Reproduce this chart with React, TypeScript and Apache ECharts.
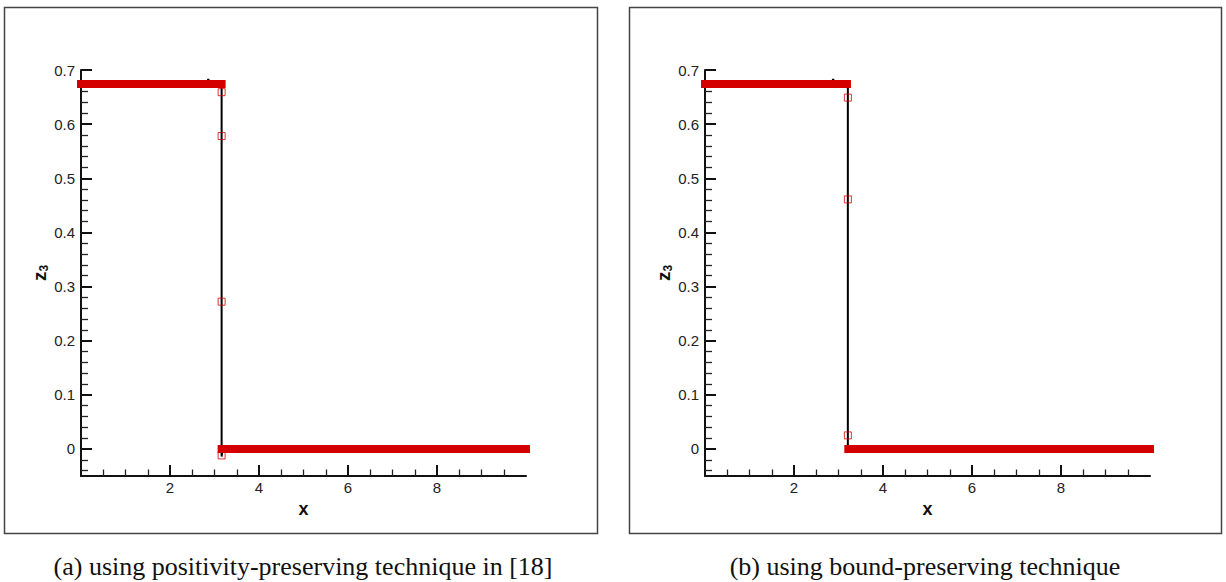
import React, { useEffect, useRef } from "react";
import * as echarts from "echarts";

// ---- tick values ----
const X_MAJOR = [2, 4, 6, 8];
const X_MINOR = [0.5, 1, 1.5, 2.5, 3, 3.5, 4.5, 5, 5.5, 6.5, 7, 7.5, 8.5, 9, 9.5];
const Y_MAJOR = [0, 0.1, 0.2, 0.3, 0.4, 0.5, 0.6, 0.7];
const Y_MINOR = [
  -0.04, -0.02, 0.02, 0.04, 0.06, 0.08, 0.12, 0.14, 0.16, 0.18, 0.22, 0.24, 0.26, 0.28,
  0.32, 0.34, 0.36, 0.38, 0.42, 0.44, 0.46, 0.48, 0.52, 0.54, 0.56, 0.58, 0.62, 0.64, 0.66, 0.68,
];

// ---- panel (a): positivity-preserving ----
const A_LINE = [[0, 0.674], [2.82, 0.674], [2.86, 0.683], [2.9, 0.674], [3.16, 0.674], [3.16, -0.014], [3.18, 0], [10, 0]];
const A_TOP = [[0, 0.674], [3.16, 0.674]];
const A_BOTTOM = [[3.16, 0], [10, 0]];
const A_JUMP = [[3.16, 0.659], [3.16, 0.578], [3.16, 0.272], [3.16, -0.012]];

// ---- panel (b): bound-preserving ----
const B_LINE = [[0, 0.674], [2.84, 0.674], [2.88, 0.683], [2.92, 0.674], [3.21, 0.674], [3.21, 0], [10, 0]];
const B_TOP = [[0, 0.674], [3.19, 0.674]];
const B_BOTTOM = [[3.22, 0], [10, 0]];
const B_JUMP = [[3.21, 0.649], [3.21, 0.461], [3.21, 0.025]];

const CAPTIONS = ["(a) using positivity-preserving technique in [18]", "(b) using bound-preserving technique"];

const RED = "#d40000";
const SANS = "Liberation Sans";

export default function App() {
  const ref = useRef<HTMLDivElement>(null);
  useEffect(() => {
    if (!ref.current) return;
    const chart = echarts.init(ref.current, undefined, { renderer: "svg" });
    const grids = [
      { left: 81, top: 70, width: 445, height: 406 },
      { left: 705, top: 70, width: 445, height: 406 },
    ];
    const xAxis: any[] = [];
    const yAxis: any[] = [];
    grids.forEach((_, g) => {
      xAxis.push({
        type: "value", gridIndex: g, min: 0, max: 10, position: "bottom",
        name: "x", nameLocation: "middle", nameGap: 21,
        nameTextStyle: { fontFamily: SANS, fontSize: 18, fontWeight: "bold", color: "#111" },
        axisLine: { onZero: false, lineStyle: { color: "#111", width: 2 } },
        axisTick: { inside: true, length: 11, customValues: X_MAJOR, lineStyle: { color: "#111", width: 2 } },
        axisLabel: { customValues: X_MAJOR, fontFamily: SANS, fontSize: 15, color: "#222", margin: 4 },
        splitLine: { show: false },
      });
      xAxis.push({
        type: "value", gridIndex: g, min: 0, max: 10, position: "bottom",
        axisLine: { show: false, onZero: false },
        axisTick: { inside: true, length: 6.5, customValues: X_MINOR, lineStyle: { color: "#222", width: 1.3 } },
        axisLabel: { show: false },
        splitLine: { show: false },
      });
      yAxis.push({
        type: "value", gridIndex: g, min: -0.05, max: 0.7, position: "left",
        name: "{z|z}{s|3}", nameLocation: "middle", nameGap: 8, nameRotate: 90,
        nameTextStyle: {
          color: "#111",
          rich: {
            z: { fontFamily: SANS, fontSize: 19, fontWeight: "bold", color: "#111", lineHeight: 22 },
            s: { fontFamily: SANS, fontSize: 12, fontWeight: "bold", color: "#111", lineHeight: 22, padding: [9, 0, 0, 0] },
          },
        },
        axisLine: { onZero: false, lineStyle: { color: "#111", width: 2 } },
        axisTick: { inside: true, length: 11, customValues: Y_MAJOR, lineStyle: { color: "#111", width: 2 } },
        axisLabel: { customValues: Y_MAJOR, fontFamily: SANS, fontSize: 15, color: "#222", margin: 6 },
        splitLine: { show: false },
      });
      yAxis.push({
        type: "value", gridIndex: g, min: -0.05, max: 0.7, position: "left",
        axisLine: { show: false, onZero: false },
        axisTick: { inside: true, length: 7, customValues: Y_MINOR, lineStyle: { color: "#222", width: 1.3 } },
        axisLabel: { show: false },
        splitLine: { show: false },
      });
    });

    const panelSeries = (g: number, line: number[][], top: number[][], bottom: number[][], jump: number[][]) => [
      {
        type: "line", xAxisIndex: g * 2, yAxisIndex: g * 2, data: line, symbol: "none", clip: false, z: 2,
        lineStyle: { color: "#000", width: 2 },
      },
      {
        type: "line", xAxisIndex: g * 2, yAxisIndex: g * 2, data: top, symbol: "none", clip: false, z: 4,
        lineStyle: { color: RED, width: 8, cap: "square" },
      },
      {
        type: "line", xAxisIndex: g * 2, yAxisIndex: g * 2, data: bottom, symbol: "none", clip: false, z: 4,
        lineStyle: { color: RED, width: 8, cap: "square" },
      },
      {
        type: "scatter", xAxisIndex: g * 2, yAxisIndex: g * 2, data: jump, symbol: "rect", symbolSize: 7, clip: false, z: 5,
        itemStyle: { color: "rgba(0,0,0,0)", borderColor: RED, borderWidth: 1 },
      },
    ];

    chart.setOption({
      animation: false,
      backgroundColor: "#fff",
      grid: grids,
      xAxis,
      yAxis,
      series: [
        ...panelSeries(0, A_LINE, A_TOP, A_BOTTOM, A_JUMP),
        ...panelSeries(1, B_LINE, B_TOP, B_BOTTOM, B_JUMP),
      ],
      graphic: [
        { type: "rect", shape: { x: 4.5, y: 7.5, width: 593, height: 526 }, style: { fill: "none", stroke: "#444", lineWidth: 1.5 }, silent: true },
        { type: "rect", shape: { x: 629.5, y: 7.5, width: 592, height: 526 }, style: { fill: "none", stroke: "#444", lineWidth: 1.5 }, silent: true },
        { type: "text", x: 303, y: 566, style: { text: CAPTIONS[0], fontFamily: "Liberation Serif", fontSize: 26, fill: "#111", align: "center", verticalAlign: "middle" } },
        { type: "text", x: 925, y: 566, style: { text: CAPTIONS[1], fontFamily: "Liberation Serif", fontSize: 26, fill: "#111", align: "center", verticalAlign: "middle" } },
      ],
    });
    return () => chart.dispose();
  }, []);
  return <div ref={ref} style={{ position: "fixed", left: 0, top: 0, width: 1226, height: 582 }} />;
}
